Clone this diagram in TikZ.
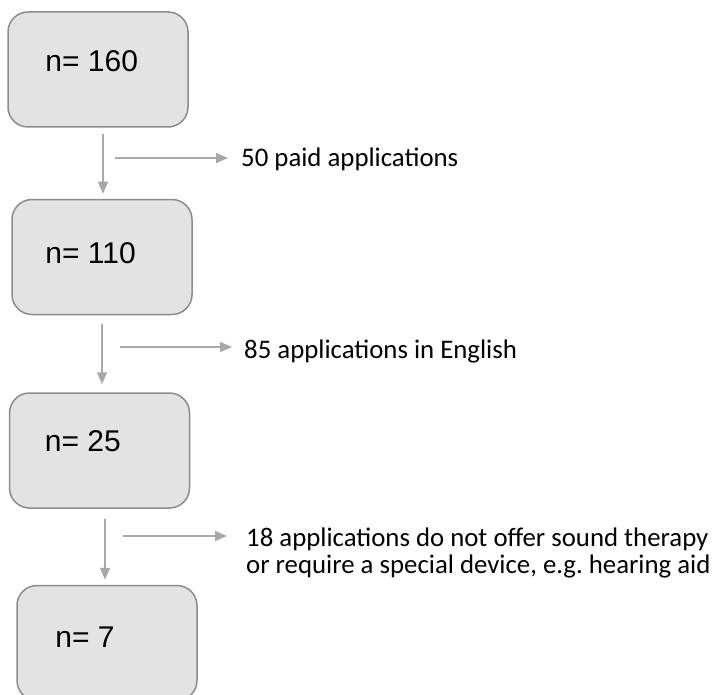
\documentclass[tikz,border=0pt]{standalone}
\usepackage{fontspec}
\setmainfont{Carlito}
\newfontfamily\boxfont{Liberation Sans}
\usetikzlibrary{calc,positioning,arrows.meta}

\definecolor{boxfill}{HTML}{E3E3E3}
\definecolor{boxline}{HTML}{8C8C8C}
\definecolor{arrowgray}{HTML}{A8A8A8}

\tikzset{
  stage/.style={draw=boxline,fill=boxfill,line width=1.5pt,rounded corners=20pt,
    minimum width=180pt,minimum height=115pt,inner sep=0pt},
  count/.style={anchor=base west,inner sep=0pt,font=\boxfont\fontsize{30}{30}\selectfont},
  excl/.style={anchor=base west,inner sep=0pt,align=left,font=\fontsize{26.8}{26.5}\selectfont\frenchspacing},
  flow/.style={draw=arrowgray,line width=1.5pt,-{Triangle[length=12pt,width=10pt]}}
}

\begin{document}
\begin{tikzpicture}[x=1pt,y=-1pt]
  \useasboundingbox (0,0) rectangle (714,695);

  % Stages
  \node[stage] (s160) at (98,69.5) {};
  \node[count] (t160) at ($(s160.north west)+(38,60)$) {n= 160};

  \node[stage] (s110) at (102,257) {};
  \node[count] (t110) at ($(s110.north west)+(34,65)$) {n= 110};

  \node[stage] (s25) at (99.5,450.5) {};
  \node[count] (t25) at ($(s25.north west)+(36,59)$) {n= 25};

  \node[stage] (s7) at (107,643) {};
  \node[count] (t7) at ($(s7.north west)+(39,63)$) {n= 7};

  % Excluded applications
  \node[excl] (paid) at (241,167) {50 paid applications};
  \node[excl] (english) at (244,358) {85 applications in English};
  \node[excl] (therapy) at (246,573) {18 applications do not offer sound therapy\\or require a special device, e.g. hearing aid};

  % Flow down
  \draw[flow,shorten <=6pt,shorten >=5pt] ([xshift=5pt]s160.south) -- ([xshift=5pt]s160.south |- s110.north);
  \draw[flow,shorten <=9pt,shorten >=8pt] (s110.south) -- (s110.south |- s25.north);
  \draw[flow,shorten <=10pt,shorten >=5pt] ([xshift=5.5pt]s25.south) -- ([xshift=5.5pt]s25.south |- s7.north);

  % Flow out
  \coordinate (paidfrom) at (115,158);
  \coordinate (englishfrom) at (120,347);
  \coordinate (therapyfrom) at (123,536);
  \draw[flow,shorten >=13pt] (paidfrom) -- (paidfrom -| paid.west);
  \draw[flow,shorten >=12pt] (englishfrom) -- (englishfrom -| english.west);
  \draw[flow,shorten >=19pt] (therapyfrom) -- (therapyfrom -| therapy.west);

\end{tikzpicture}
\end{document}
